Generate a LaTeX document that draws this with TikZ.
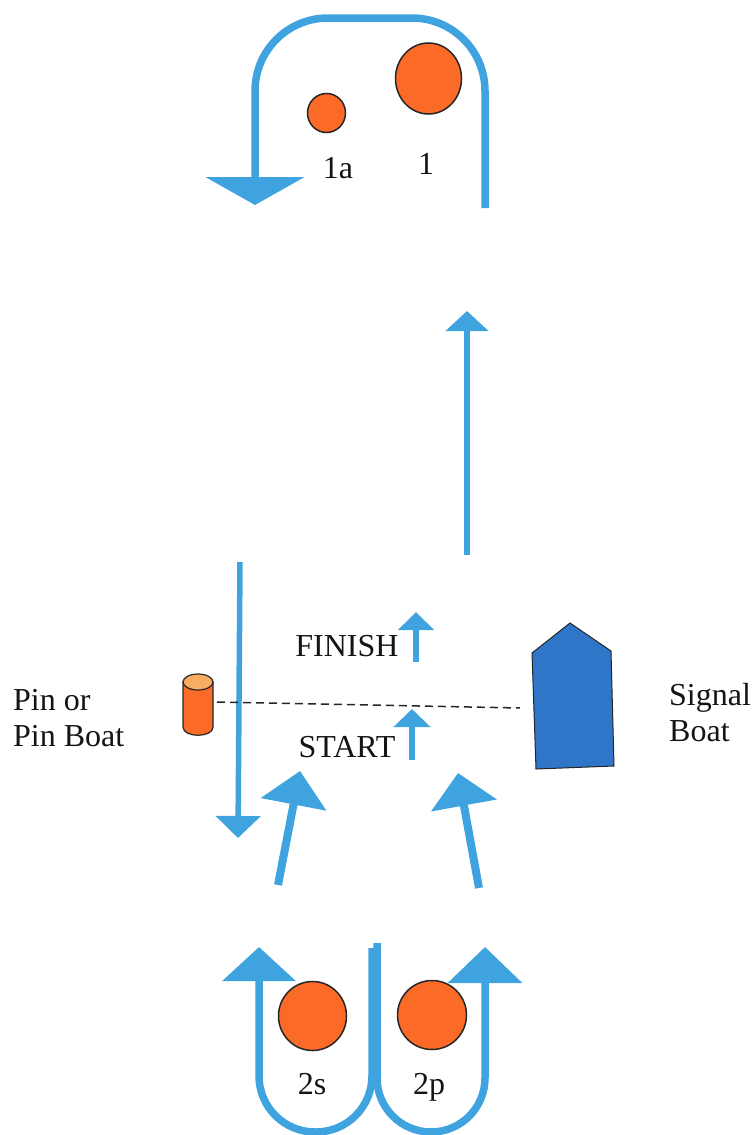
\documentclass[tikz,border=0pt]{standalone}
\usepackage{fontspec}
\setmainfont{Liberation Serif}
\usepackage{tikz}
\usetikzlibrary{arrows.meta,shapes.geometric}
\definecolor{courseblue}{HTML}{3FA3E0}
\definecolor{markorange}{HTML}{FB6A26}
\definecolor{pintop}{HTML}{F8AE62}
\definecolor{boatblue}{HTML}{2F76C9}
\begin{document}
\begin{tikzpicture} [
				x=1pt, y=-1pt,
				every node/.style={font=\fontsize{32}{36}\selectfont, text=black!92, inner sep=0pt},
				course/.style={draw=courseblue, line width=#1, line join=round},
				course/.default=7.5pt,
				markbuoy/.style 2 args={ellipse, draw=black!85, line width=1.5pt, fill=markorange, minimum width=#1, minimum height=#2}
			]
			\useasboundingbox (0,0) rectangle (754,1135);
			% marks
			\node[markbuoy={66pt}{71pt}] (m1) at (428.5,78.5) {};
			\node[markbuoy={38pt}{39pt}] (m1a) at (326.5,113) {};
			\node[markbuoy={68pt}{69pt}] (m2s) at (312.5,1016) {};
			\node[markbuoy={69pt}{69pt}] (m2p) at (432,1015) {};
			\node[anchor=base] (l1) at (426,174) {1};
			\node[anchor=base] (l1a) at (338,178) {1a};
			\node[anchor=base] (l2s) at (312,1094) {2s};
			\node[anchor=base] (l2p) at (429,1094) {2p};
			% pin and signal boat
			\draw[black!85, line width=1.2pt, fill=markorange] (183,682) -- (183,727) .. controls (183,738) and (213,738) .. (213,727) -- (213,682) -- cycle;
			\draw[black!85, line width=1.2pt, fill=pintop] (198,682) ellipse [x radius=15, y radius=8];
			\draw[black!85, line width=1pt, fill=boatblue] (570,623) -- (611,651) -- (614,766) -- (536,769) -- (532,653) -- cycle;
			\coordinate (pinline) at (217,702);
			\coordinate (boatline) at (520,708);
			\node[anchor=west, align=left] (pinlabel) at (13,718.5) {Pin or\\Pin Boat};
			\node[anchor=west, align=left] (boatlabel) at (669,712.5) {Signal\\Boat};
			\node[anchor=base] (finish) at (347,656) {FINISH};
			\node[anchor=base] (start) at (347,757) {START};
			% legs of the course
			\coordinate (a1) at (485,208); \coordinate (a2) at (485,18); \coordinate (a3) at (255,18); \coordinate (a4) at (255,205);
			\draw[course, rounded corners=73pt, -{Triangle[length=28pt,width=98pt]}] (a1) -- (a2) -- (a3) -- (a4);
			\coordinate (b1) at (467,555); \coordinate (b2) at (467,311);
			\draw[course=6pt, -{Triangle[length=20pt,width=42pt]}] (b1) -- (b2);
			\coordinate (c1) at (240,562); \coordinate (c2) at (238,838);
			\draw[course=5.5pt, -{Triangle[length=22pt,width=44pt]}] (c1) -- (c2);
			\coordinate (f1) at (416,662); \coordinate (f2) at (416,612);
			\draw[course=6pt, -{Triangle[length=18pt,width=35pt]}] (f1) -- (f2);
			\coordinate (s1) at (412,760); \coordinate (s2) at (412,709);
			\draw[course=6pt, -{Triangle[length=18pt,width=36pt]}] (s1) -- (s2);
			\coordinate (d1) at (278,885); \coordinate (d2) at (300,771);
			\draw[course=8pt, -{Triangle[length=34pt,width=65pt]}] (d1) -- (d2);
			\coordinate (e1) at (479,888); \coordinate (e2) at (458,773);
			\draw[course=8pt, -{Triangle[length=33pt,width=65pt]}] (e1) -- (e2);
			\coordinate (g1) at (372,948); \coordinate (g2) at (372,1132); \coordinate (g3) at (259,1132); \coordinate (g4) at (259,947);
			\draw[course, rounded corners=56pt, -{Triangle[length=34pt,width=72pt]}] (g1) -- (g2) -- (g3) -- (g4);
			\coordinate (h1) at (377,943); \coordinate (h2) at (377,1132); \coordinate (h3) at (485,1132); \coordinate (h4) at (485,947);
			\draw[course, rounded corners=54pt, -{Triangle[length=36pt,width=73pt]}] (h1) -- (h2) -- (h3) -- (h4);
			% start line
			\draw[black!85, line width=1.5pt, dash pattern=on 8pt off 5pt] (pinline) -- (boatline);
		\end{tikzpicture}
\end{document}
